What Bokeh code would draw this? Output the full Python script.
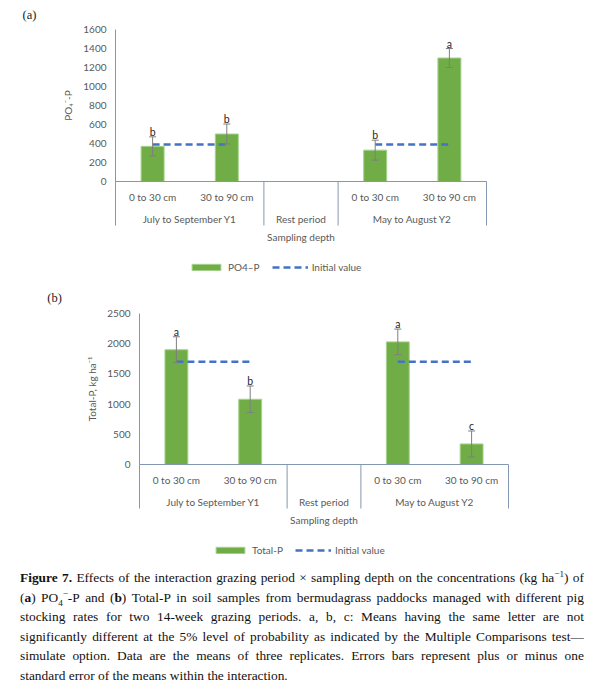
from bokeh.plotting import figure
from bokeh.models import (Range1d, FixedTicker, Whisker, TeeHead,
                          ColumnDataSource, Legend, LegendItem, Div)
from bokeh.layouts import column
from bokeh.core.properties import value
from bokeh.embed import file_html
from bokeh.resources import INLINE

# ---------------- data ----------------
periods = ["July to September Y1", "Rest period", "May to August Y2"]
period_slots = [2, 1, 2]
depths = ["0 to 30 cm", "30 to 90 cm"]
bar_period = [0, 0, 2, 2]
bar_depth = [0, 1, 0, 1]

po4_mean = [370, 500, 330, 1300]
po4_se = [100, 105, 105, 100]
po4_letters = ["b", "b", "b", "a"]
po4_initial = 390
po4_ticks = [0, 200, 400, 600, 800, 1000, 1200, 1400, 1600]

totp_mean = [1900, 1080, 2030, 340]
totp_se = [215, 220, 212, 215]
totp_letters = ["a", "b", "a", "c"]
totp_initial = 1700
totp_ticks = [0, 500, 1000, 1500, 2000, 2500]

# ---------------- style ----------------
GREEN = "#70AD47"
BLUE = "#4472C4"
AXIS = "#8497B0"
TXT = "#595959"
FONT = "Lato"

starts = [sum(period_slots[:k]) for k in range(len(period_slots))]
bounds = starts + [sum(period_slots)]
bar_x = [starts[bar_period[i]] + bar_depth[i] + 0.5 for i in range(len(bar_period))]

PAGE_L, PAGE_R = 0, 600


def build(tag, ylabel, leg_label, mean, se, letters, initial, ticks,
          fig_top, fig_h, fl, fr, ft, fb, tag_px):
    ymax = ticks[-1]
    nslots = sum(period_slots)

    def px2x(px):
        return (px - fl) / (fr - fl) * nslots

    def px2y(py):
        return (fb - py) / (fb - ft) * ymax

    fig_bot = fig_top + fig_h
    p = figure(width=PAGE_R - PAGE_L, height=fig_h,
               x_range=Range1d(px2x(PAGE_L), px2x(PAGE_R)),
               y_range=Range1d(px2y(fig_bot), px2y(fig_top)),
               output_backend="svg", toolbar_location=None, tools="", title=None,
               min_border=0, min_border_left=0, min_border_right=0,
               min_border_top=0, min_border_bottom=0)
    p.outline_line_color = None
    p.xgrid.visible = False
    p.ygrid.visible = False
    p.background_fill_color = "white"
    p.border_fill_color = "white"

    # axes drawn at the data origin
    ya = p.yaxis[0]
    ya.fixed_location = 0
    ya.bounds = (0, ymax)
    ya.ticker = FixedTicker(ticks=ticks)
    ya.axis_line_color = AXIS
    ya.major_tick_line_color = None
    ya.minor_tick_line_color = None
    ya.major_tick_out = 0
    ya.major_tick_in = 0
    ya.major_label_standoff = 9
    ya.major_label_text_font = FONT
    ya.major_label_text_font_size = "10px"
    ya.major_label_text_color = TXT
    ya.axis_label = ylabel
    ya.axis_label_text_font = FONT
    ya.axis_label_text_font_size = "10px"
    ya.axis_label_text_font_style = "normal"
    ya.axis_label_text_color = TXT
    ya.axis_label_standoff = 6

    xa = p.xaxis[0]
    xa.fixed_location = 0
    xa.bounds = (0, nslots)
    xa.ticker = FixedTicker(ticks=[])
    xa.axis_line_color = AXIS
    xa.major_tick_line_color = None
    xa.minor_tick_line_color = None
    xa.major_label_text_font_size = "0px"

    # bars
    bars = p.vbar(x=bar_x, top=mean, width=0.31, fill_color=GREEN,
                  line_color="#a6d28b", line_width=1)

    # initial value lines (one per grazing period)
    x0, x1 = [], []
    for k, n in enumerate(period_slots):
        xs = [bar_x[i] for i in range(len(bar_x)) if bar_period[i] == k]
        if xs:
            x0.append(min(xs))
            x1.append(max(xs))
    init_r = p.segment(x0=x0, y0=[initial] * len(x0), x1=x1, y1=[initial] * len(x0),
                       line_color=BLUE, line_width=2.6, line_dash="7 4")

    # error bars
    src = ColumnDataSource(dict(x=bar_x,
                                lower=[m - s for m, s in zip(mean, se)],
                                upper=[m + s for m, s in zip(mean, se)]))
    p.add_layout(Whisker(source=src, base="x", lower="lower", upper="upper",
                         line_color="#7f7f7f", line_width=1, level="overlay",
                         upper_head=TeeHead(size=7, line_color="#7f7f7f", line_width=1),
                         lower_head=TeeHead(size=7, line_color="#7f7f7f", line_width=1)))

    # significance letters
    p.text(x=bar_x, y=[m + s for m, s in zip(mean, se)], text=letters,
           text_font=value(FONT), text_font_size="10.5px", text_align="center",
           text_baseline="bottom", y_offset=1, text_color="#262626")

    # category dividers below the axis
    ydiv = px2y(fb + 44)
    p.segment(x0=bounds, y0=[0] * len(bounds), x1=bounds, y1=[ydiv] * len(bounds),
              line_color=AXIS, line_width=1)

    # category labels
    dx, dl, gx, gl = [], [], [], []
    for k, n in enumerate(period_slots):
        if n == len(depths):
            for j, d in enumerate(depths):
                dx.append(starts[k] + j + 0.5)
                dl.append(d)
        gx.append(starts[k] + n / 2)
        gl.append(periods[k])
    tk = dict(text_font=value(FONT), text_font_size="10px", text_align="center",
              text_baseline="middle", text_color=TXT)
    p.text(x=dx, y=[px2y(fb + 15)] * len(dx), text=dl, **tk)
    p.text(x=gx, y=[px2y(fb + 37)] * len(gx), text=gl, **tk)
    p.text(x=[nslots / 2], y=[px2y(fb + 55)], text=["Sampling depth"], **tk)

    # panel tag
    p.text(x=[px2x(tag_px[0])], y=[px2y(tag_px[1])], text=[tag],
           text_align="center", text_baseline="middle",
           text_font=value("Liberation Serif"), text_font_size="12.5px",
           text_color="#222222")

    # legend
    leg = Legend(items=[LegendItem(label=leg_label, renderers=[bars]),
                        LegendItem(label="Initial value", renderers=[init_r])],
                 orientation="horizontal",
                 location=(fl + 73 - PAGE_L, fig_bot - (fb + 92)),
                 glyph_width=36, glyph_height=8, label_height=8,
                 label_standoff=4, spacing=12, padding=0, margin=0,
                 border_line_color=None, background_fill_alpha=0,
                 label_text_font=FONT, label_text_font_size="10px",
                 label_text_color=TXT)
    p.add_layout(leg)
    return p


pa = build("(a)", "PO\u2084\u207b-P", "PO4\u2013P", po4_mean, po4_se, po4_letters,
           po4_initial, po4_ticks, fig_top=0, fig_h=285, fl=115, fr=486, ft=29, fb=181,
           tag_px=(29, 14))
pb = build("(b)", "Total-P, kg ha\u207b\u00b9", "Total-P", totp_mean, totp_se, totp_letters,
           totp_initial, totp_ticks, fig_top=285, fig_h=275, fl=139, fr=508, ft=313, fb=464,
           tag_px=(54, 297))

lines = [
    "<b>Figure</b> <b>7.</b> Effects of the interaction grazing period \u00d7 sampling depth on the concentrations (kg ha<sup>\u22121</sup>) of",
    "(<b>a</b>) PO<sub>4</sub><sup>\u2212</sup>-P and (<b>b</b>) Total-P in soil samples from bermudagrass paddocks managed with different pig",
    "stocking rates for two 14-week grazing periods. a, b, c: Means having the same letter are not",
    "significantly different at the 5% level of probability as indicated by the Multiple Comparisons test\u2014",
    "simulate option. Data are the means of three replicates. Errors bars represent plus or minus one",
]
last = "standard error of the means within the interaction."
LH = "19.5px"
rows = ""
for ln in lines:
    words = "".join("<span>%s</span>" % w for w in ln.split(" "))
    rows += ('<div style="display:flex;justify-content:space-between;'
             'white-space:nowrap;height:%s;line-height:%s;">%s</div>' % (LH, LH, words))
rows += '<div style="height:%s;line-height:%s;white-space:nowrap;">%s</div>' % (LH, LH, last)
html = ('<div style="width:564px;margin-left:20px;height:126px;overflow:hidden;'
        'box-sizing:border-box;padding-top:8px;font-family:\'Liberation Serif\';'
        'font-size:13.4px;color:#111;">'
        '<style>sup,sub{font-size:68%;line-height:0;}</style>' + rows + '</div>')
cap = Div(text=html, width=600, height=128, margin=(0, 0, 0, 0))

layout = column(pa, pb, cap, spacing=0)
open("out.html", "w").write(file_html(layout, INLINE))
